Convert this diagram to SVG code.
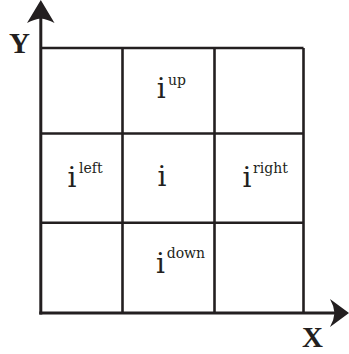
<svg xmlns="http://www.w3.org/2000/svg" width="349" height="354" viewBox="0 0 349 354">
<style>
.ln{stroke:#231f20;stroke-width:2.6;fill:none}
.ax{stroke:#231f20;stroke-width:3;fill:none}
.ah{fill:#231f20}
.i{font-family:"DejaVu Serif",serif;font-size:28px;fill:#231f20;text-anchor:middle}
.s{font-family:"DejaVu Serif",serif;font-size:14px;fill:#231f20}
.lab{font-family:"Liberation Serif",serif;font-weight:bold;font-size:29px;fill:#231f20;text-anchor:middle}
</style>
<rect width="349" height="354" fill="#fff"/>
<g id="connectors">
<line class="ln" x1="40.8" y1="48" x2="303.5" y2="48"/>
<line class="ln" x1="40.8" y1="133.5" x2="303.5" y2="133.5"/>
<line class="ln" x1="40.8" y1="222.7" x2="303.5" y2="222.7"/>
<line class="ln" x1="122.5" y1="48" x2="122.5" y2="313"/>
<line class="ln" x1="214.5" y1="48" x2="214.5" y2="313"/>
<line class="ln" x1="303.5" y1="48" x2="303.5" y2="313"/>
<line class="ax" x1="40.8" y1="314.5" x2="40.8" y2="15"/>
<line class="ax" x1="39.3" y1="313" x2="337" y2="313"/>
<path class="ah" d="M40.8,0 L54.5,23 Q47,19 40.8,18.5 Q34.5,19 27,23 Z"/>
<path class="ah" d="M349,313 L330,299 Q334,306 334.5,313 Q334,320 330,327 Z"/>
</g>
<g id="label-Y"><text class="lab" x="19.5" y="53">Y</text></g>
<g id="label-X"><text class="lab" x="312.5" y="346.5">X</text></g>
<g id="cell-up"><text class="i" x="161.3" y="98">i</text><text class="s" x="168" y="85">up</text></g>
<g id="cell-left"><text class="i" x="72" y="187">i</text><text class="s" x="79" y="173">left</text></g>
<g id="cell-center"><text class="i" x="162" y="186">i</text></g>
<g id="cell-right"><text class="i" x="247" y="187">i</text><text class="s" x="253" y="173">right</text></g>
<g id="cell-down"><text class="i" x="160.4" y="273">i</text><text class="s" x="166.7" y="258">down</text></g>
</svg>
